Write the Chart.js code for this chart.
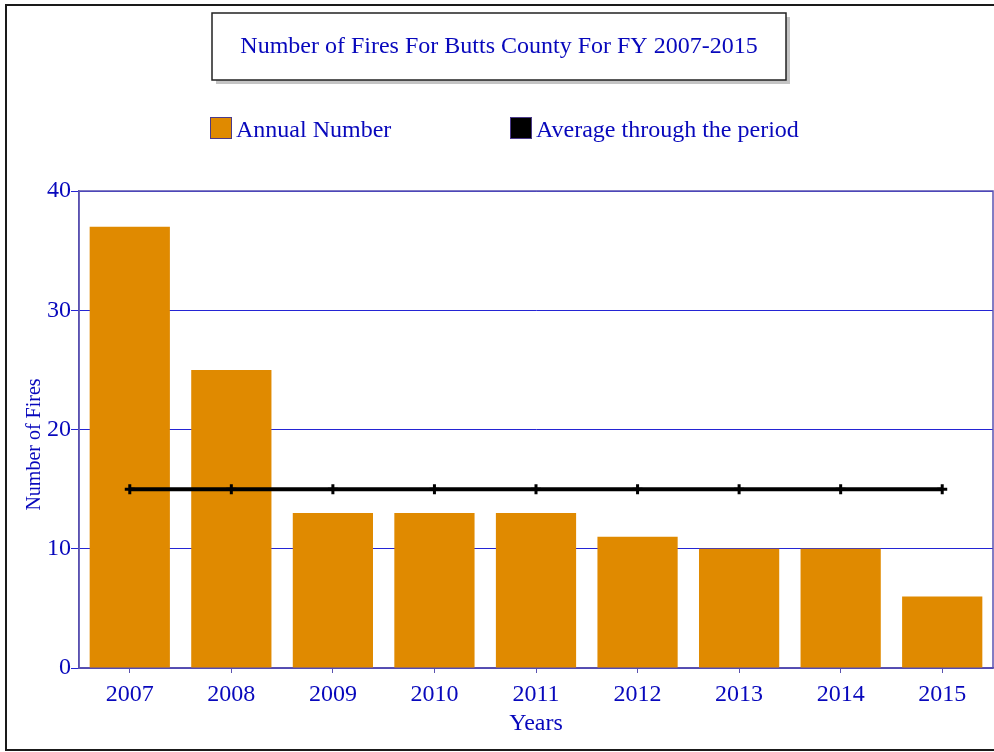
<!DOCTYPE html>
<html>
<head>
<meta charset="utf-8">
<script src="https://cdn.jsdelivr.net/npm/chart.js@4.4.1/dist/chart.umd.min.js"></script>
<style>
  html, body { margin: 0; padding: 0; background: #fff; overflow: hidden; }
  #wrap { position: relative; width: 1001px; height: 752px; }
</style>
</head>
<body>
<div id="wrap"><canvas id="chart-fires"></canvas></div>
<script>
const YEARS   = ['2007', '2008', '2009', '2010', '2011', '2012', '2013', '2014', '2015']
const ANNUAL  = [37, 25, 13, 13, 13, 11, 10, 10, 6]
const AVERAGE = [15, 15, 15, 15, 15, 15, 15, 15, 15]
const Y_TICKS = [0, 10, 20, 30, 40]

const TITLE   = 'Number of Fires For Butts County For FY 2007-2015'
const BLUE    = '#0808bc'
const GRID    = '#2424d4'
const EDGE    = '#5a52b0'
const ORANGE  = '#e08a00'
const SERIF   = '"Liberation Serif", "DejaVu Serif", serif'

// page frame, boxed title, legend and the plot outline
const chromePlugin = {
  id: 'chrome',
  beforeDatasetsDraw(chart) {
    const { ctx, chartArea: a } = chart
    ctx.save()
    ctx.strokeStyle = EDGE
    ctx.lineWidth = 1.5
    ctx.strokeRect(a.left, a.top, a.right - a.left, a.bottom - a.top)
    ctx.restore()
  },
  afterDraw(chart) {
    const ctx = chart.ctx
    ctx.save()

    // outer frame
    ctx.strokeStyle = '#1a1a1a'
    ctx.lineWidth = 2
    ctx.beginPath()
    ctx.moveTo(1010, 5); ctx.lineTo(6, 5); ctx.lineTo(6, 750); ctx.lineTo(1010, 750)
    ctx.stroke()

    // title box with drop shadow
    ctx.fillStyle = '#c4c4c4'
    ctx.fillRect(216, 17, 574, 67)
    ctx.fillStyle = '#fff'
    ctx.fillRect(212, 13, 574, 67)
    ctx.strokeStyle = '#222'
    ctx.lineWidth = 1.5
    ctx.strokeRect(212, 13, 574, 67)
    ctx.fillStyle = BLUE
    ctx.font = `24px ${SERIF}`
    ctx.textAlign = 'center'
    ctx.textBaseline = 'middle'
    ctx.fillText(TITLE, 499, 47)

    // legend
    const items = chart.data.datasets.map((d, i) => ({ label: d.label, color: d.legendColor, x: [210, 510][i] }))
    ctx.textAlign = 'left'
    items.forEach(it => {
      ctx.fillStyle = it.color
      ctx.fillRect(it.x, 117, 22, 22)
      ctx.strokeStyle = '#4b3a8a'
      ctx.lineWidth = 1
      ctx.strokeRect(it.x + 0.5, 117.5, 21, 21)
      ctx.fillStyle = BLUE
      ctx.fillText(it.label, it.x + 26, 131)
    })
    ctx.restore()
  }
}

const ctx = document.getElementById('chart-fires').getContext('2d')
new Chart(ctx, {
  data: {
    labels: YEARS,
    datasets: [
      {
        type: 'bar',
        label: 'Annual Number',
        data: ANNUAL,
        legendColor: ORANGE,
        backgroundColor: ORANGE,
        borderWidth: 0,
        categoryPercentage: 1,
        barPercentage: 0.79,
        order: 1
      },
      {
        type: 'line',
        label: 'Average through the period',
        data: AVERAGE,
        legendColor: '#000',
        borderColor: '#000',
        borderWidth: 4,
        pointStyle: 'cross',
        pointRadius: 5,
        pointBorderWidth: 3,
        pointBorderColor: '#000',
        fill: false,
        order: 0
      }
    ]
  },
  options: {
    responsive: true,
    maintainAspectRatio: false,
    animation: false,
    layout: { padding: { top: 191, right: 1, bottom: 16, left: 25 } },
    plugins: {
      legend: { display: false },
      tooltip: { enabled: false }
    },
    scales: {
      x: {
        grid: { drawOnChartArea: false, offset: false, color: EDGE, tickLength: 5 },
        border: { color: EDGE, width: 1.5 },
        ticks: { color: BLUE, font: { family: SERIF, size: 24, lineHeight: 1 }, padding: 10, maxRotation: 0 },
        title: { display: true, text: 'Years', color: BLUE, font: { family: SERIF, size: 24, lineHeight: 1 }, padding: { top: -5, bottom: 0 } }
      },
      y: {
        min: Y_TICKS[0],
        max: Y_TICKS[Y_TICKS.length - 1],
        afterBuildTicks: axis => { axis.ticks = Y_TICKS.map(v => ({ value: v })) },
        grid: { color: GRID, tickLength: 8, lineWidth: 1 },
        border: { color: EDGE, width: 1.5 },
        ticks: { color: BLUE, font: { family: SERIF, size: 24 }, padding: 0 },
        title: {
          display: true,
          // trailing spaces push the rotated caption down a little
          text: 'Number of Fires\u00a0\u00a0\u00a0\u00a0\u00a0\u00a0',
          color: BLUE,
          font: { family: SERIF, size: 20, lineHeight: 1 },
          padding: { top: 0, bottom: 2 }
        }
      }
    }
  },
  plugins: [chromePlugin]
})
</script>
</body>
</html>
